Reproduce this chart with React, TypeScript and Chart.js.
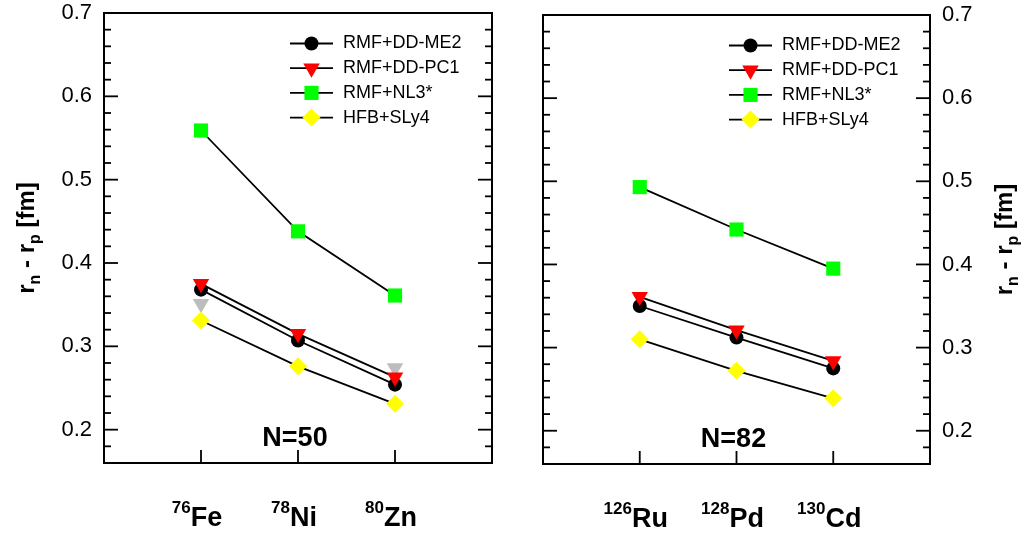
import React, { useEffect, useRef } from 'react';
import { Chart, registerables } from 'chart.js';
import { drawPoint } from 'chart.js/helpers';

Chart.register(...registerables);

const FONT = '"Liberation Sans", Arial, Helvetica, sans-serif';

// Legend order
const SERIES = ['RMF+DD-ME2', 'RMF+DD-PC1', 'RMF+NL3*', 'HFB+SLy4'];

// N = 50 isotones: neutron-skin thickness r_n - r_p [fm]
const N50_MASS = ['76', '78', '80'];
const N50_ELEM = ['Fe', 'Ni', 'Zn'];
const N50_DDME2 = [0.368, 0.307, 0.254];
const N50_DDPC1 = [0.375, 0.315, 0.263];
const N50_NL3 = [0.559, 0.438, 0.361];
const N50_SLY4 = [0.331, 0.276, 0.231];
const N50_GREY = [0.351, null, 0.274];

// N = 82 isotones
const N82_MASS = ['126', '128', '130'];
const N82_ELEM = ['Ru', 'Pd', 'Cd'];
const N82_DDME2 = [0.35, 0.312, 0.275];
const N82_DDPC1 = [0.361, 0.321, 0.284];
const N82_NL3 = [0.493, 0.442, 0.395];
const N82_SLY4 = [0.31, 0.272, 0.239];

const Y_MIN = 0.16;
const Y_MAX = 0.7;
const Y_MINOR_STEP = 0.02;
const Y_LABELS = ['0.2', '0.3', '0.4', '0.5', '0.6', '0.7'];

const STYLE: Record<string, any> = {
  'RMF+DD-ME2': { pointStyle: 'circle', color: '#000000', radius: 7, rotation: 0 },
  'RMF+DD-PC1': { pointStyle: 'triangle', color: '#ff0000', radius: 9.5, rotation: 180 },
  'RMF+NL3*': { pointStyle: 'rect', color: '#00ff00', radius: 10, rotation: 0 },
  'HFB+SLy4': { pointStyle: 'rectRot', color: '#ffff00', radius: 9, rotation: 0 },
  grey: { pointStyle: 'triangle', color: '#bdbdbd', radius: 9.5, rotation: 180 },
};

type PanelProps = {
  side: 'left' | 'right';
  left: number;
  width: number;
  pad: { left: number; right: number; top: number; bottom: number };
  masses: string[];
  elements: string[];
  values: Record<string, (number | null)[]>;
  tag: string;
};

function toPoints(vals: (number | null)[]) {
  return vals.map((v, i) => ({ x: i, y: v }));
}

function Panel({ side, left, width, pad, masses, elements, values, tag }: PanelProps) {
  const ref = useRef<HTMLCanvasElement>(null);

  useEffect(() => {
    if (!ref.current) return;
    // first dataset is drawn on top
    const drawOrder = ['RMF+DD-PC1', 'RMF+DD-ME2', 'RMF+NL3*', 'HFB+SLy4', 'grey'];
    const datasets = drawOrder
      .filter((k) => values[k])
      .map((k) => {
        const s = STYLE[k];
        return {
          label: k,
          data: toPoints(values[k]),
          showLine: k !== 'grey',
          borderColor: '#000000',
          borderWidth: 1.8,
          pointStyle: s.pointStyle,
          pointRotation: s.rotation,
          pointRadius: s.radius,
          pointBackgroundColor: s.color,
          pointBorderWidth: 0,
          pointHoverRadius: s.radius,
        };
      });

    const decor = {
      id: 'decor',
      afterDraw(chart: any) {
        const { ctx, chartArea: a, scales } = chart;
        const xs = scales.x;
        const ys = scales.y;
        ctx.save();
        ctx.strokeStyle = '#000';
        ctx.fillStyle = '#000';
        ctx.lineWidth = 2;
        ctx.strokeRect(a.left, a.top, a.right - a.left, a.bottom - a.top);

        const seg = (x1: number, y1: number, x2: number, y2: number) => {
          ctx.beginPath();
          ctx.moveTo(x1, y1);
          ctx.lineTo(x2, y2);
          ctx.stroke();
        };

        // inward y ticks on both vertical edges
        ctx.lineWidth = 1.8;
        for (let k = 0; ; k++) {
          const v = Y_MIN + k * Y_MINOR_STEP;
          if (v > Y_MAX + 1e-9) break;
          const py = ys.getPixelForValue(v);
          const major = Math.abs(v * 10 - Math.round(v * 10)) < 1e-6;
          const len = major ? 14 : 7;
          seg(a.left, py, a.left + len, py);
          seg(a.right, py, a.right - len, py);
        }
        // inward x ticks
        masses.forEach((_, i) => {
          const px = xs.getPixelForValue(i);
          seg(px, a.bottom, px, a.bottom - 13);
        });

        // y tick labels
        ctx.font = `22px ${FONT}`;
        ctx.textBaseline = 'middle';
        Y_LABELS.forEach((l) => {
          const py = ys.getPixelForValue(parseFloat(l));
          if (side === 'left') {
            ctx.textAlign = 'right';
            ctx.fillText(l, a.left - 12, py);
          } else {
            ctx.textAlign = 'left';
            ctx.fillText(l, a.right + 12, py);
          }
        });

        // nuclide labels with mass-number superscripts
        ctx.textAlign = 'left';
        ctx.textBaseline = 'alphabetic';
        const mainFont = `bold 27px ${FONT}`;
        const supFont = `bold 17px ${FONT}`;
        const base = a.bottom + 63;
        masses.forEach((m, i) => {
          const px = xs.getPixelForValue(i);
          ctx.font = supFont;
          const ws = ctx.measureText(m).width;
          ctx.font = mainFont;
          const wm = ctx.measureText(elements[i]).width;
          const x0 = px - (ws + wm) / 2 - 4;
          ctx.font = supFont;
          ctx.fillText(m, x0, base - 13);
          ctx.font = mainFont;
          ctx.fillText(elements[i], x0 + ws, base);
        });

        // isotone tag
        ctx.font = `bold 27px ${FONT}`;
        ctx.textAlign = 'center';
        ctx.fillText(tag, xs.getPixelForValue(1) - 3, a.bottom - 17);

        // axis title r_n - r_p [fm]
        const parts: [string, boolean][] = [
          ['r', false],
          ['n', true],
          [' - r', false],
          ['p', true],
          [' [fm]', false],
        ];
        const tMain = `bold 24px ${FONT}`;
        const tSub = `bold 16px ${FONT}`;
        let total = 0;
        parts.forEach(([t, sub]) => {
          ctx.font = sub ? tSub : tMain;
          total += ctx.measureText(t).width;
        });
        const bx = side === 'left' ? a.left - 70 : a.right + 82;
        const cy = (a.top + a.bottom) / 2;
        ctx.translate(bx, cy);
        ctx.rotate(-Math.PI / 2);
        ctx.textAlign = 'left';
        let cx = -total / 2;
        parts.forEach(([t, sub]) => {
          ctx.font = sub ? tSub : tMain;
          ctx.fillText(t, cx, sub ? 6 : 0);
          cx += ctx.measureText(t).width;
        });
        ctx.setTransform(1, 0, 0, 1, 0, 0);

        // legend
        SERIES.forEach((name, i) => {
          const s = STYLE[name];
          const ly = a.top + 30.5 + i * 24.7;
          ctx.strokeStyle = '#000';
          ctx.lineWidth = 1.8;
          seg(a.left + 186, ly, a.left + 229, ly);
          ctx.fillStyle = s.color;
          drawPoint(ctx, { pointStyle: s.pointStyle, rotation: s.rotation, radius: s.radius, borderWidth: 0 }, a.left + 207.5, ly);
          ctx.fillStyle = '#000';
          ctx.font = `18px ${FONT}`;
          ctx.textAlign = 'left';
          ctx.textBaseline = 'middle';
          ctx.fillText(name, a.left + 239, ly);
        });

        ctx.restore();
      },
    };

    const chart = new Chart(ref.current, {
      type: 'scatter',
      data: { datasets: datasets as any },
      options: {
        animation: false,
        responsive: false,
        events: [],
        layout: { padding: pad },
        scales: {
          x: { type: 'linear', min: -1, max: 3, display: false },
          y: { type: 'linear', min: Y_MIN, max: Y_MAX, display: false },
        },
        plugins: { legend: { display: false }, tooltip: { enabled: false } },
      },
      plugins: [decor],
    });
    return () => chart.destroy();
  }, []);

  return (
    <canvas
      ref={ref}
      width={width}
      height={538}
      style={{ position: 'absolute', left, top: 0, width, height: 538 }}
    />
  );
}

export default function App() {
  return (
    <div style={{ position: 'absolute', left: 0, top: 0, width: 1029, height: 538, background: '#fff' }}>
      <Panel
        side="left"
        left={0}
        width={515}
        pad={{ left: 104, right: 23, top: 13, bottom: 75 }}
        masses={N50_MASS}
        elements={N50_ELEM}
        values={{
          'RMF+DD-ME2': N50_DDME2,
          'RMF+DD-PC1': N50_DDPC1,
          'RMF+NL3*': N50_NL3,
          'HFB+SLy4': N50_SLY4,
          grey: N50_GREY,
        }}
        tag="N=50"
      />
      <Panel
        side="right"
        left={515}
        width={514}
        pad={{ left: 28, right: 99, top: 15, bottom: 74 }}
        masses={N82_MASS}
        elements={N82_ELEM}
        values={{
          'RMF+DD-ME2': N82_DDME2,
          'RMF+DD-PC1': N82_DDPC1,
          'RMF+NL3*': N82_NL3,
          'HFB+SLy4': N82_SLY4,
        }}
        tag="N=82"
      />
    </div>
  );
}
